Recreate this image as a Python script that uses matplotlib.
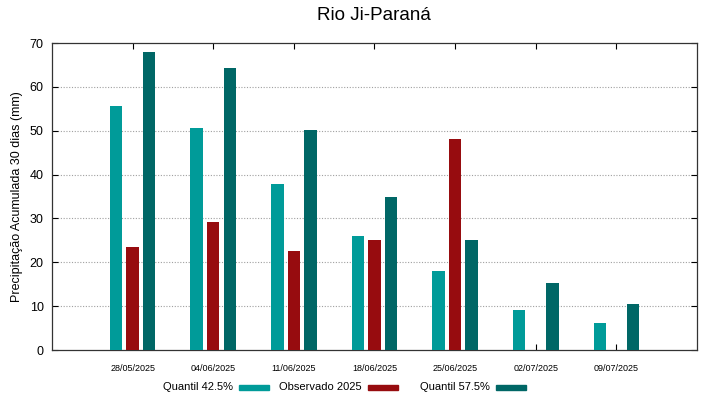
import numpy as np
import matplotlib
matplotlib.use('Agg')
import matplotlib.pyplot as plt
from matplotlib.patches import Rectangle

plt.rcParams['font.family'] = ['Liberation Sans', 'DejaVu Sans']

# dados
datas = ['28/05/2025', '04/06/2025', '11/06/2025', '18/06/2025',
         '25/06/2025', '02/07/2025', '09/07/2025']
quantil_425 = [55.6, 50.6, 37.9, 26.0, 18.1, 9.1, 6.2]
observado_2025 = [23.5, 29.1, 22.6, 25.0, 48.2, np.nan, np.nan]
quantil_575 = [67.9, 64.2, 50.2, 34.8, 25.0, 15.2, 10.6]

series = [('Quantil 42.5%', quantil_425, '#009b99'),
          ('Observado 2025', observado_2025, '#970c0f'),
          ('Quantil 57.5%', quantil_575, '#006766')]

fig = plt.figure(figsize=(7.19, 3.99), dpi=100)
ax = fig.add_axes([0.0723, 0.1228, 0.8971, 0.7694])

x = np.arange(len(datas))
largura = 0.155
for i, (nome, vals, cor) in enumerate(series):
    ax.bar(x + (i - 1) * 0.205, vals, width=largura, color=cor, zorder=3)

ax.set_xlim(-1, 7)
ax.set_ylim(0, 70)
ax.set_yticks(range(0, 71, 10))
ax.set_xticks(x)
ax.set_xticklabels(datas, fontsize=6.5)
ax.tick_params(axis='x', direction='in', length=4, top=True, pad=10)
ax.tick_params(axis='y', direction='in', length=4, right=True, labelsize=9, pad=6)
for gl in [10, 20, 30, 40, 50, 60]:
    ax.axhline(gl, color='#a0a0a0', linestyle=(0, (1, 1.5)), linewidth=0.8, zorder=1)
for s in ax.spines.values():
    s.set_color('#333333')
    s.set_linewidth(0.9)

ax.set_ylabel('Precipitação Acumulada 30 dias (mm)', fontsize=9, labelpad=5)
fig.text(374 / 719, 1 - 15 / 399, 'Rio Ji-Paraná', ha='center', va='center', fontsize=13.5)

# legenda estilo gnuplot: texto seguido da amostra de cor
leg_y = 387 / 399
leg_items = [(233, 239), (362, 368), (490, 496)]
for (nome, vals, cor), (tx, sx) in zip(series, leg_items):
    fig.text(tx / 719, 1 - leg_y, nome, ha='right', va='center', fontsize=8)
    fig.patches.append(Rectangle((sx / 719, 1 - leg_y - 2.5 / 399), 30 / 719, 5 / 399,
                                 transform=fig.transFigure, color=cor))

fig.savefig('out.png', dpi=100)
